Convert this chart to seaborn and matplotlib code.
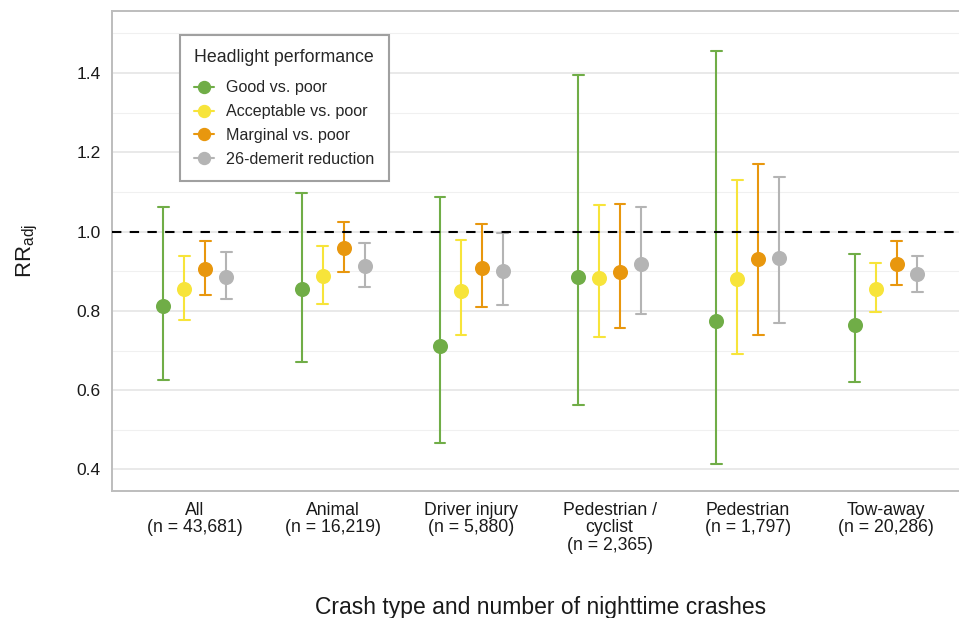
import matplotlib
matplotlib.use("Agg")
import matplotlib.pyplot as plt
from matplotlib.lines import Line2D
from matplotlib.ticker import MultipleLocator
import numpy as np
import pandas as pd
import seaborn as sns

# Crash types with counts of nighttime crashes
categories = [
    "All\n(n = 43,681)",
    "Animal\n(n = 16,219)",
    "Driver injury\n(n = 5,880)",
    "Pedestrian /\ncyclist\n(n = 2,365)",
    "Pedestrian\n(n = 1,797)",
    "Tow-away\n(n = 20,286)",
]

series = ["Good vs. poor", "Acceptable vs. poor", "Marginal vs. poor", "26-demerit reduction"]
colors = ["#70AD47", "#F7E43A", "#E8970E", "#B4B4B4"]

# Adjusted rate ratios with 95% confidence limits
good_est = [0.813, 0.856, 0.712, 0.885, 0.775, 0.764]
good_lo = [0.625, 0.670, 0.467, 0.562, 0.414, 0.620]
good_hi = [1.061, 1.098, 1.088, 1.394, 1.455, 0.944]

acc_est = [0.854, 0.887, 0.850, 0.883, 0.881, 0.855]
acc_lo = [0.776, 0.818, 0.738, 0.734, 0.690, 0.798]
acc_hi = [0.939, 0.964, 0.980, 1.066, 1.131, 0.921]

marg_est = [0.906, 0.959, 0.908, 0.899, 0.931, 0.918]
marg_lo = [0.839, 0.898, 0.811, 0.757, 0.740, 0.864]
marg_hi = [0.977, 1.025, 1.020, 1.069, 1.171, 0.976]

dem_est = [0.886, 0.912, 0.900, 0.917, 0.934, 0.892]
dem_lo = [0.830, 0.860, 0.815, 0.792, 0.769, 0.847]
dem_hi = [0.949, 0.972, 0.996, 1.061, 1.137, 0.939]

estimates = [good_est, acc_est, marg_est, dem_est]
lowers = [good_lo, acc_lo, marg_lo, dem_lo]
uppers = [good_hi, acc_hi, marg_hi, dem_hi]

# Long-form table: one row each for lower limit, estimate and upper limit
rows = []
for name, est, lo, hi in zip(series, estimates, lowers, uppers):
    for cat, e, l, h in zip(categories, est, lo, hi):
        for v in (l, e, h):
            rows.append({"crash": cat, "comparison": name, "rr": v})
df = pd.DataFrame(rows)

sns.set_theme(style="white")
plt.rcParams["font.family"] = ["Liberation Sans", "DejaVu Sans"]
plt.rcParams["mathtext.fontset"] = "custom"
plt.rcParams["mathtext.rm"] = "Liberation Sans"

fig = plt.figure(figsize=(9.59, 6.18), dpi=100)
ax = fig.add_axes([0.1168, 0.2063, 0.8936, 0.7751])

# Minor / major grid drawn first
ax.set_axisbelow(True)
ax.yaxis.set_major_locator(MultipleLocator(0.2))
ax.yaxis.set_minor_locator(MultipleLocator(0.1))
ax.grid(which="major", axis="y", color="#E3E3E3", lw=1.1, zorder=0)
ax.grid(which="minor", axis="y", color="#F0F0F0", lw=0.8, zorder=0)
ax.grid(which="major", axis="x", color="#E3E3E3", lw=1.1, zorder=0)

sns.pointplot(
    data=df, x="crash", y="rr", hue="comparison",
    order=categories, hue_order=series, palette=colors,
    estimator="median", errorbar=lambda v: (np.min(v), np.max(v)),
    dodge=0.455, linestyle="none", markers="o", markersize=8.8,
    capsize=0.078, err_kws={"linewidth": 1.5},
    legend=False, ax=ax,
)

ax.axhline(1.0, color="black", lw=1.5, ls=(0, (4.5, 4)), zorder=6)

ax.set_xlim(0 - 0.6, len(categories) - 1 + 0.6)
ax.set_ylim(0.347, 1.555)
ax.set_yticks([0.4, 0.6, 0.8, 1.0, 1.2, 1.4])
ax.set_yticklabels(["0.4", "0.6", "0.8", "1.0", "1.2", "1.4"])

for side in ("left", "top", "bottom", "right"):
    ax.spines[side].set_color("#BDBDBD")
    ax.spines[side].set_linewidth(1.4)

ax.tick_params(axis="both", which="major", length=4, width=1, color="#BDBDBD",
               labelcolor="#1A1A1A", pad=4)
ax.tick_params(axis="y", which="major", labelsize=12.5, pad=4.3)
ax.tick_params(axis="x", which="major", labelsize=12.7, pad=4)
ax.tick_params(axis="y", which="minor", length=0)
for lbl in ax.get_xticklabels():
    lbl.set_linespacing(1.05)
    lbl.set_verticalalignment("top")

ax.set_xlabel("Crash type and number of nighttime crashes", fontsize=16.5,
              color="#1A1A1A", labelpad=30)
ax.set_ylabel(r"$\mathrm{RR}_{\mathrm{adj}}$", fontsize=16, color="#1A1A1A", labelpad=26)

handles = [Line2D([], [], color=c, marker="o", markersize=8.6, lw=1.5) for c in colors]
leg = ax.legend(
    handles, series, title="Headlight performance",
    loc="upper left", bbox_to_anchor=(0.0793, 0.951), borderaxespad=0,
    fontsize=11.6, title_fontsize=12.8, frameon=True, fancybox=False,
    edgecolor="#A0A0A0", framealpha=1, labelspacing=0.55, handlelength=1.2,
    handletextpad=0.75, borderpad=0.9, alignment="left",
)
# extra room between the legend title and its entries
leg._legend_box.sep = leg._legend_box.sep + 3.6
leg.get_frame().set_linewidth(1.5)
leg.set_zorder(10)

fig.savefig("out.png", dpi=100)
